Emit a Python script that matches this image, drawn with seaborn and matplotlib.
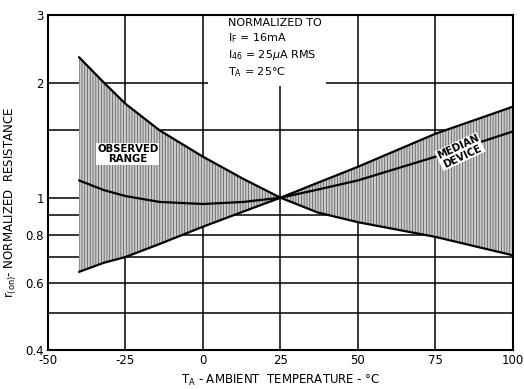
import numpy as np
import pandas as pd
import matplotlib
matplotlib.use("Agg")
import matplotlib.pyplot as plt
from matplotlib.patches import Rectangle
import seaborn as sns

# values
temp = [-40, -32, -25, -14, 0, 13, 25, 37, 50, 75, 100]
r_max = [2.33, 2.0, 1.76, 1.5, 1.28, 1.12, 1.0, 1.094, 1.205, 1.47, 1.73]
r_min = [0.64, 0.676, 0.70, 0.757, 0.84, 0.92, 1.0, 0.915, 0.863, 0.79, 0.707]
r_median = [1.11, 1.047, 1.01, 0.975, 0.963, 0.975, 1.0, 1.05, 1.11, 1.28, 1.49]

x_ticks = [-50, -25, 0, 25, 50, 75, 100]
x_labels = ["-50", "-25", "0", "25", "50", "75", "100"]
y_ticks = [0.4, 0.6, 0.8, 1, 2, 3]
y_labels = ["0.4", "0.6", "0.8", "1", "2", "3"]
y_grid = [0.5, 0.6, 0.7, 0.8, 0.9, 1, 1.5, 2]

sns.set_style("white")
plt.rcParams["font.family"] = ["DejaVu Sans"]
plt.rcParams["hatch.linewidth"] = 0.55
plt.rcParams["hatch.color"] = "#5a5a5a"
for k in ["text.color", "axes.labelcolor", "xtick.color", "ytick.color"]:
    plt.rcParams[k] = "black"

df = pd.DataFrame({"temp": temp, "max": r_max, "min": r_min, "median": r_median})

fig = plt.figure(figsize=(5.24, 3.89), dpi=100)
ax = fig.add_axes([0.0916, 0.1003, 0.8874, 0.8607])
ax.set_yscale("log")

# grid drawn by hand so the note box can sit over it
for g in y_grid:
    ax.axhline(g, color="black", lw=1.1, zorder=1)
for g in x_ticks[1:-1]:
    ax.axvline(g, color="black", lw=1.1, zorder=1)

ax.fill_between(df["temp"], df["min"], df["max"], facecolor="#cccccc",
                hatch="||||||", edgecolor="#5a5a5a", linewidth=0, zorder=2)

for col in ["max", "min", "median"]:
    sns.lineplot(data=df, x="temp", y=col, ax=ax, color="black", lw=1.6, zorder=4)

ax.set_xlim(-50, 100)
ax.set_ylim(0.4, 3)
ax.set_xticks(x_ticks)
ax.set_xticklabels(x_labels)
ax.set_yticks(y_ticks)
ax.set_yticklabels(y_labels)
ax.yaxis.set_minor_locator(matplotlib.ticker.NullLocator())
ax.tick_params(length=0, labelsize=8.5, pad=3)
for s in ax.spines.values():
    s.set_linewidth(1.5)
    s.set_color("black")
    s.set_zorder(5)

ax.set_xlabel("T$_{\\rm A}$ - AMBIENT  TEMPERATURE - °C", fontsize=8.5, labelpad=4)
ax.set_ylabel("r$_{\\rm (on)}$- NORMALIZED  RESISTANCE", fontsize=8.5)
ax.yaxis.set_label_coords(-0.062, 0.44)

# white panel behind the note
ax.add_patch(Rectangle((1.5, 1.96), 38.2, 1.1, facecolor="white", edgecolor="none", zorder=3))
note = ("NORMALIZED TO\nI$_{\\rm F}$ = 16mA\nI$_{\\rm 46}$ = 25$\\mu$A RMS\nT$_{\\rm A}$ = 25°C")
ax.text(8, 2.95, note, fontsize=8, va="top", ha="left", linespacing=1.3, zorder=6)

ax.text(-24.3, 1.30, "OBSERVED\nRANGE", fontsize=7.3, fontweight="bold", ha="center",
        va="center", linespacing=1.0, zorder=6,
        bbox=dict(facecolor="white", edgecolor="none", pad=0.5))
ax.text(82.9, 1.32, "MEDIAN\nDEVICE", fontsize=7.3, fontweight="bold", ha="center",
        va="center", rotation=25, linespacing=1.0, zorder=6,
        bbox=dict(facecolor="white", edgecolor="none", pad=0.5))

fig.savefig("out.png", dpi=100)
